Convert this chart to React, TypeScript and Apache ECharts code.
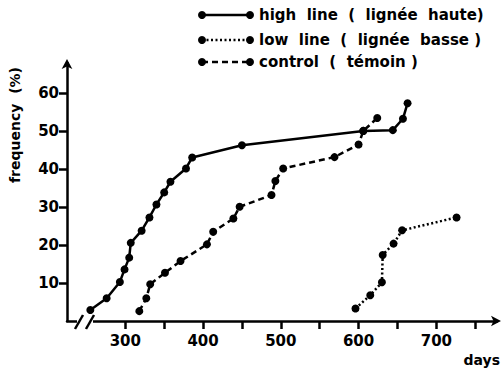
import React, { useEffect, useRef } from "react";
import * as echarts from "echarts";

const highLineDays = [255, 276, 293, 299, 305, 307, 321, 331, 340, 350, 358, 378, 386, 450, 606, 644, 657, 663];
const highLineFreq = [2.9, 6.0, 10.3, 13.6, 16.7, 20.6, 23.8, 27.3, 30.7, 33.9, 36.7, 40.2, 43.1, 46.3, 50.1, 50.3, 53.3, 57.4];

const lowLineDays = [596, 615, 630, 631, 645, 656, 726];
const lowLineFreq = [3.3, 6.8, 10.2, 17.4, 20.4, 23.9, 27.3];

const controlDays = [318, 327, 332, 351, 371, 405, 413, 439, 447, 488, 493, 503, 569, 600, 606, 624];
const controlFreq = [2.6, 6.0, 9.7, 12.7, 15.8, 20.2, 23.5, 27.0, 30.1, 33.2, 36.9, 40.2, 43.2, 46.5, 50.1, 53.5];

const xTickValues = [300, 350, 400, 450, 500, 550, 600, 650, 700, 750];
const xLabelValues = [300, 400, 500, 600, 700];
const yTickValues = [10, 20, 30, 40, 50, 60];

const legendLabels = ["high  line  (  lignée  haute)", "low  line  (  lignée  basse )", "control  (  témoin )"];

const FONT = "'DejaVu Sans', sans-serif";

function zip(xs: number[], ys: number[]) {
  return xs.map((x, i) => [x, ys[i]]);
}

export default function App() {
  const ref = useRef<HTMLDivElement>(null);
  useEffect(() => {
    if (!ref.current) return;
    const chart = echarts.init(ref.current, undefined, { renderer: "svg" });
    const lineTypes: any[] = ["solid", [2, 2.5], [6, 4]];
    const legendGraphics: any[] = [];
    const rowsY = [15, 40, 62];
    legendLabels.forEach((lab, i) => {
      const y = rowsY[i];
      legendGraphics.push({
        type: "line",
        shape: { x1: 202, y1: y, x2: 250, y2: y },
        style: { stroke: "#000", lineWidth: 2.5, lineDash: i === 0 ? null : lineTypes[i] },
      });
      legendGraphics.push({ type: "circle", shape: { cx: 202, cy: y, r: 4 }, style: { fill: "#000" } });
      legendGraphics.push({ type: "circle", shape: { cx: 250, cy: y, r: 4 }, style: { fill: "#000" } });
      legendGraphics.push({
        type: "text",
        x: 259,
        y: y,
        style: { text: lab, fill: "#000", font: `bold 15px ${FONT}`, verticalAlign: "middle", textAlign: "left" },
      });
    });
    const mkSeries = (name: string, days: number[], freq: number[], t: any) => ({
      name,
      type: "line",
      data: zip(days, freq),
      symbol: "circle",
      symbolSize: 8,
      itemStyle: { color: "#000" },
      lineStyle: { color: "#000", width: 2.5, type: t },
      clip: false,
    });
    chart.setOption({
      animation: false,
      backgroundColor: "#fff",
      grid: { left: 67, right: 4, top: 63, bottom: 47, containLabel: false, outerBoundsMode: "none" },
      xAxis: {
        type: "value",
        min: 225,
        max: 778,
        axisLine: { show: true, lineStyle: { color: "#000", width: 2.5 }, symbol: ["none", "arrow"], symbolSize: [8, 10], symbolOffset: [0, 4] },
        axisTick: { show: true, customValues: xTickValues, length: 8, lineStyle: { color: "#000", width: 2.5 } },
        axisLabel: { customValues: xLabelValues, color: "#000", fontFamily: FONT, fontWeight: "bold", fontSize: 15, margin: 12 },
        splitLine: { show: false },
      },
      yAxis: {
        type: "value",
        min: 0,
        max: 68,
        axisLine: { show: true, lineStyle: { color: "#000", width: 2.5 }, symbol: ["none", "arrow"], symbolSize: [8, 10], symbolOffset: [0, 4] },
        axisTick: { show: true, customValues: yTickValues, length: 8, lineStyle: { color: "#000", width: 2.5 } },
        axisLabel: { customValues: yTickValues, color: "#000", fontFamily: FONT, fontWeight: "bold", fontSize: 15, margin: 8, verticalAlign: "middle", padding: [0, 0, 8, 0] },
        splitLine: { show: false },
      },
      series: [
        mkSeries("high line", highLineDays, highLineFreq, "solid"),
        mkSeries("low line", lowLineDays, lowLineFreq, [2, 2.5]),
        mkSeries("control", controlDays, controlFreq, [6, 4]),
      ],
      graphic: [
        ...legendGraphics,
        { type: "rect", shape: { x: 77, y: 316, width: 16, height: 8 }, style: { fill: "#fff" }, z: 100 },
        { type: "line", shape: { x1: 75, y1: 329, x2: 83, y2: 315 }, style: { stroke: "#000", lineWidth: 2.5 }, z: 101 },
        { type: "line", shape: { x1: 86, y1: 329, x2: 94, y2: 315 }, style: { stroke: "#000", lineWidth: 2.5 }, z: 101 },
        {
          type: "text",
          x: 15,
          y: 125,
          rotation: Math.PI / 2,
          style: { text: "frequency  (%)", fill: "#000", font: `bold 14px ${FONT}`, textAlign: "center", verticalAlign: "middle" },
        },
        {
          type: "text",
          x: 500,
          y: 360,
          style: { text: "days", fill: "#000", font: `bold 14px ${FONT}`, textAlign: "right", verticalAlign: "middle" },
        },
      ],
    });
    return () => chart.dispose();
  }, []);
  return <div ref={ref} style={{ width: 501, height: 368, position: "absolute", left: 0, top: 0 }} />;
}
